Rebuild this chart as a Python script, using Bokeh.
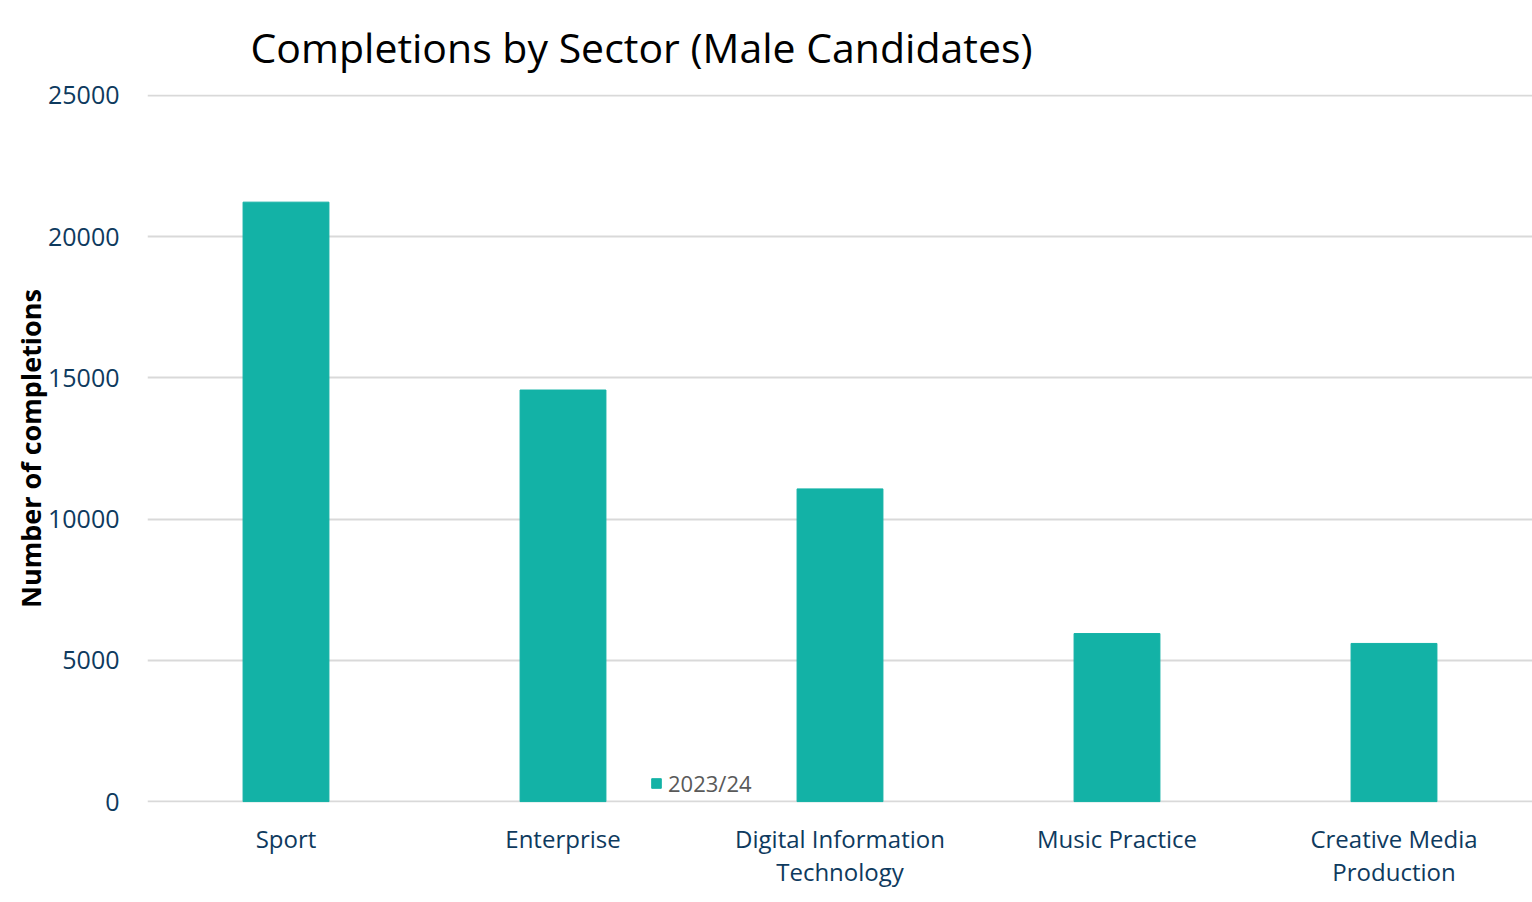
from bokeh.plotting import figure
from bokeh.models import ColumnDataSource, Legend, LegendItem, FactorRange, Range1d
from bokeh.embed import file_html
from bokeh.resources import INLINE

sectors = ["Sport", "Enterprise", "Digital Information\nTechnology", "Music Practice", "Creative Media\nProduction"]
completions_2023_24 = [21220, 14570, 11070, 5950, 5600]
series_name = "2023/24"
y_ticks = [0, 5000, 10000, 15000, 20000, 25000]
title_text = "Completions by Sector (Male Candidates)"

FONT = "Open Sans"
TEAL = "#13B2A6"
NAVY = "#0E3A5E"

src = ColumnDataSource(dict(sector=sectors, value=completions_2023_24))

p = figure(frame_width=1385, frame_height=708, output_backend="svg", toolbar_location=None,
           x_range=FactorRange(factors=sectors, range_padding=0),
           y_range=Range1d(-30, 25030),
           min_border_left=147, min_border_right=0, min_border_top=93, min_border_bottom=101,
           title=title_text)

r = p.vbar(x="sector", top="value", source=src, width=0.31, fill_color=TEAL, line_color=TEAL)

p.title.text_font = FONT
p.title.text_font_size = "41px"
p.title.text_font_style = "normal"
p.title.text_color = "#000000"
p.title.text_line_height = 1.0
p.title.vertical_align = "top"
p.title.align = "left"
p.title.offset = 103
p.title.standoff = 36

p.outline_line_color = None
p.background_fill_color = "white"
p.border_fill_color = "white"

p.xgrid.grid_line_color = None
p.ygrid.grid_line_color = "#D9D9D9"
p.ygrid.grid_line_width = 2
p.yaxis.ticker = y_ticks

for ax in (p.xaxis, p.yaxis):
    ax.axis_line_color = None
    ax.major_tick_line_color = None
    ax.minor_tick_line_color = None
    ax.major_tick_out = 0
    ax.major_tick_in = 0
    ax.minor_tick_out = 0
    ax.major_label_text_font = FONT
    ax.major_label_text_color = NAVY

p.xaxis.major_label_text_font_size = "24px"
p.xaxis.major_label_text_line_height = 1.0
p.yaxis.major_label_text_font_size = "25px"
p.xaxis.major_label_standoff = 19
p.yaxis.major_label_standoff = 28
p.yaxis.axis_label = "Number of completions"
p.yaxis.axis_label_text_font = FONT
p.yaxis.axis_label_text_font_style = "bold"
p.yaxis.axis_label_text_font_size = "27px"
p.yaxis.axis_label_text_color = "#000000"
p.yaxis.axis_label_standoff = -4

legend = Legend(items=[LegendItem(label=series_name, renderers=[r])],
                location=(503, 4), orientation="horizontal",
                glyph_width=12, glyph_height=12, label_text_font=FONT,
                label_text_font_size="22px", label_text_color="#595959",
                padding=0, margin=0, spacing=0, label_standoff=6, label_height=12,
                border_line_color=None, background_fill_alpha=0)
p.add_layout(legend, "center")

open("out.html", "w").write(file_html(p, INLINE))
